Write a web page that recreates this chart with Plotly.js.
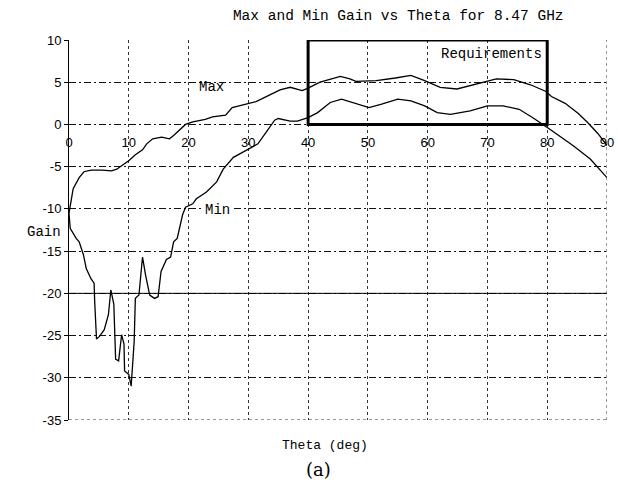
<!DOCTYPE html>
<html>
<head>
<meta charset="utf-8">
<script src="https://cdn.plot.ly/plotly-3.0.1.min.js"></script>
<style>html,body{margin:0;padding:0;background:#fff;}#chart{width:618px;height:498px;}</style>
</head>
<body>
<div id="chart"></div>
<script>
// Data
var maxTheta = [0, 0.7, 1.7, 2.5, 3.7, 5.5, 7.1, 8.0, 8.8, 10, 11.1, 12.3, 13.0, 14.0, 15.5, 16.8, 17.5, 18.3, 19.5, 20.7, 22.8, 24.0, 26.2, 27.3, 29.0, 31.3, 33, 35.3, 37, 39, 40, 42, 45.4, 47, 48, 51.4, 54.6, 57.2, 59.5, 62.1, 64.9, 67.6, 71.5, 74.4, 77.2, 79.8, 80.7, 83, 85.2, 86.8, 88.5, 90];
var maxGain  = [-10.5, -7.6, -6.3, -5.6, -5.4, -5.4, -5.5, -5.3, -4.9, -4.3, -3.6, -3.0, -2.3, -1.7, -1.5, -1.7, -1.3, -0.8, 0.0, 0.3, 0.6, 0.9, 1.1, 2.0, 2.3, 2.7, 3.3, 4.1, 4.4, 4.0, 4.3, 5.0, 5.7, 5.4, 5.1, 5.2, 5.5, 5.8, 5.2, 4.4, 4.2, 4.7, 5.4, 5.3, 4.7, 3.9, 3.3, 2.5, 1.3, 0.2, -1.1, -2.5];

var minTheta = [0, 0.2, 1.2, 1.7, 2.4, 2.9, 3.7, 4.2, 4.3, 4.6, 5.1, 5.9, 6.6, 7.0, 7.5, 7.8, 8.3, 8.8, 9.2, 9.3, 10, 10.4, 10.9, 11.1, 11.7, 12.3, 12.8, 13.5, 14.3, 14.9, 15.4, 16.3, 17.0, 17.5, 18.1, 19.0, 19.5, 20.7, 21.3, 23, 24.7, 25.8, 27.5, 28.5, 30, 31.6, 33.2, 34.4, 35, 37, 38.2, 40, 41.6, 43.7, 45.6, 47.4, 50.2, 52.3, 55, 57.2, 59.5, 61.6, 63.8, 67.1, 70, 72.6, 75.3, 77.6, 79.3, 80.5, 84.3, 87.2, 90];
var minGain  = [-10.5, -12.3, -13.5, -13.9, -15.4, -17.1, -18.3, -18.8, -21, -25.4, -25.1, -24.3, -22.5, -19.6, -21.3, -27.8, -28.0, -24.9, -26, -29.2, -29.6, -31, -25.7, -20.6, -20.2, -15.7, -17.8, -20.2, -20.6, -20.4, -17.4, -16.0, -15.7, -13.9, -13.5, -10.7, -9.8, -9.4, -8.8, -8.0, -6.8, -5.3, -3.9, -3.5, -2.9, -2.3, -0.7, 0.5, 0.7, 0.4, 0.4, 0.8, 1.4, 2.6, 3.0, 2.6, 2.0, 2.4, 3.0, 2.8, 2.2, 1.4, 1.2, 1.6, 2.2, 2.2, 1.8, 0.8, 0.0, -0.6, -2.5, -4.1, -6.3];

var xTicks = [0, 10, 20, 30, 40, 50, 60, 70, 80, 90];
var yTicks = [-35, -30, -25, -20, -15, -10, -5, 0, 5, 10];
var reqTheta = [40, 80];
var reqGain = [0, 10];

var mono = 'Liberation Mono, Courier New, monospace';
var sans = 'Liberation Sans, Arial, sans-serif';

var traces = [
  {x: maxTheta, y: maxGain, mode: 'lines', line: {color: '#000', width: 1.3}, hoverinfo: 'skip'},
  {x: minTheta, y: minGain, mode: 'lines', line: {color: '#000', width: 1.3}, hoverinfo: 'skip'}
];

var layout = {
  width: 618, height: 498,
  margin: {l: 69, r: 11, t: 40, b: 78},
  paper_bgcolor: '#fff', plot_bgcolor: '#fff',
  showlegend: false,
  title: {text: 'Max and Min Gain vs Theta for 8.47 GHz', x: 0.612, xanchor: 'center', xref: 'paper',
          y: 0.97, yanchor: 'middle', font: {family: mono, size: 14.5, color: '#000'}},
  xaxis: {range: [0, 90], tickvals: xTicks, ticktext: xTicks.map(String), anchor: 'free', position: 35/45,
          showgrid: true, gridcolor: '#333', gridwidth: 1, griddash: 'dot', zeroline: false, showline: false,
          ticks: '', ticklabelstandoff: 9, tickfont: {family: sans, size: 13, color: '#000'}, fixedrange: true},
  yaxis: {range: [-35, 10], tickvals: yTicks, ticktext: yTicks.map(String), showgrid: true, gridcolor: '#111', gridwidth: 1,
          griddash: '7px,3px,2px,3px', zeroline: false, showline: true, linecolor: '#000', linewidth: 1,
          ticks: 'outside', ticklen: 4, tickcolor: '#000', tickfont: {family: sans, size: 13, color: '#000'}, fixedrange: true},
  shapes: [
    {type: 'line', xref: 'x', yref: 'y', x0: 0, x1: 90, y0: -20, y1: -20, line: {color: '#000', width: 1}},
    {type: 'line', xref: 'x', yref: 'y', x0: 0, x1: 90, y0: -35, y1: -35, line: {color: '#333', width: 1, dash: 'dot'}},
    {type: 'line', xref: 'x', yref: 'y', x0: 90, x1: 90, y0: -35, y1: 10, line: {color: '#333', width: 1, dash: 'dot'}},
    {type: 'rect', xref: 'x', yref: 'y', x0: reqTheta[0], x1: reqTheta[1], y0: reqGain[0], y1: reqGain[1],
     line: {color: '#000', width: 3}}
  ],
  annotations: [
    {text: 'Requirements', x: 70.6, y: 8.3, xref: 'x', yref: 'y', showarrow: false, font: {family: mono, size: 14, color: '#000'}},
    {text: 'Max', x: 23.9, y: 4.4, xref: 'x', yref: 'y', showarrow: false, font: {family: mono, size: 14, color: '#000'}},
    {text: 'Min', x: 24.8, y: -10.1, xref: 'x', yref: 'y', showarrow: false, bgcolor: '#fff', font: {family: mono, size: 14, color: '#000'}},
    {text: 'Gain', x: -0.082, y: -12.75, xref: 'paper', yref: 'y', showarrow: false, font: {family: mono, size: 14, color: '#000'}},
    {text: 'Theta (deg)', x: (325 - 69) / 538, y: -(445 - 420) / 380, xref: 'paper', yref: 'paper', showarrow: false,
     yanchor: 'middle', font: {family: mono, size: 13, color: '#000'}},
    {text: '(a)', x: (318 - 69) / 538, y: -(469 - 420) / 380, xref: 'paper', yref: 'paper', showarrow: false,
     yanchor: 'middle', font: {family: 'DejaVu Serif, Liberation Serif, serif', size: 18, color: '#000'}}
  ]
};

Plotly.newPlot('chart', traces, layout, {displayModeBar: false, staticPlot: true});
</script>
</body>
</html>
